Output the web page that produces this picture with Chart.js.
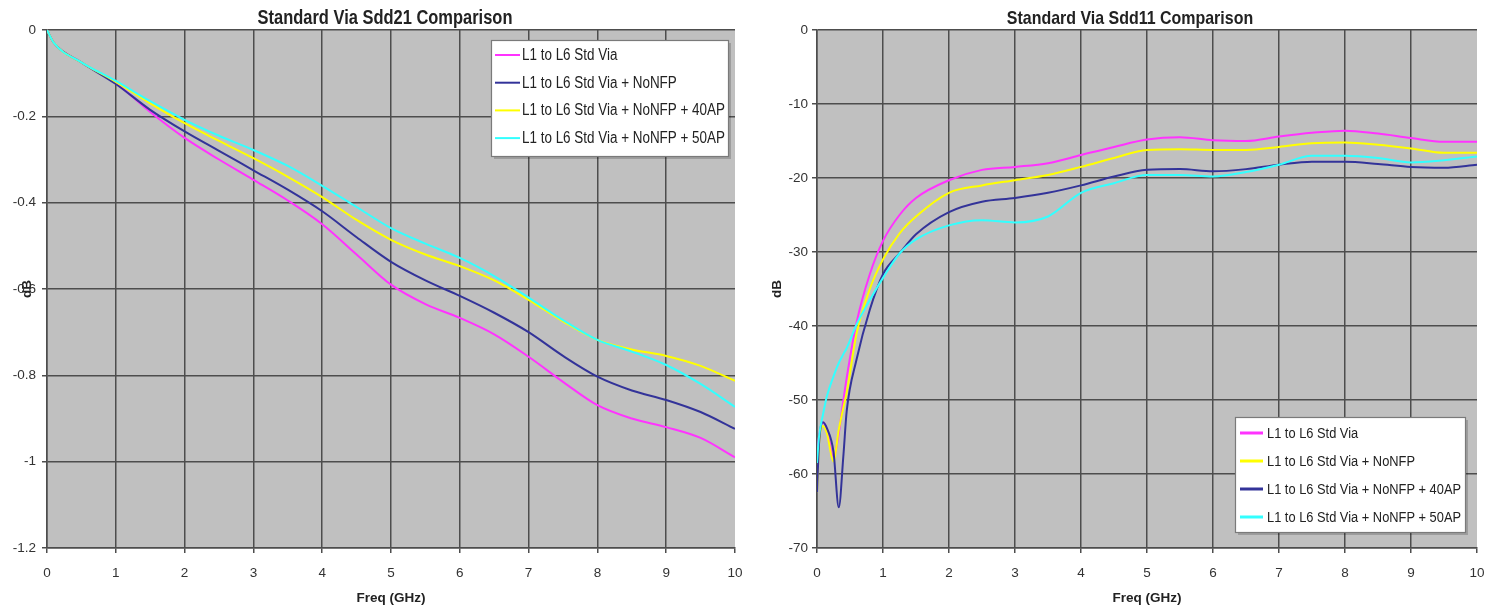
<!DOCTYPE html>
<html><head><meta charset="utf-8">
<script src="https://cdn.jsdelivr.net/npm/chart.js@4.4.1/dist/chart.umd.min.js"></script>
<style>
html,body{margin:0;padding:0;background:#fff;overflow:hidden;}
#wrap{position:relative;width:1494px;height:609px;}
.box{position:absolute;top:0;width:747px;height:609px;}
#b1{left:0}
#b2{left:747px}
</style></head><body>
<div id="wrap"><div class="box" id="b1"><canvas id="c1"></canvas></div><div class="box" id="b2"><canvas id="c2"></canvas></div></div>
<script>
// ---------- data ----------
const titleLeft = 'Standard Via Sdd21 Comparison';
const titleRight = 'Standard Via Sdd11 Comparison';
const labelStd = 'L1 to L6 Std Via';
const labelNoNFP = 'L1 to L6 Std Via + NoNFP';
const label40AP = 'L1 to L6 Std Via + NoNFP + 40AP';
const label50AP = 'L1 to L6 Std Via + NoNFP + 50AP';

const freqL = [0, 0.1, 0.5, 1, 1.5, 2, 2.5, 3, 3.5, 4, 4.5, 5, 5.5, 6, 6.5, 7, 7.5, 8, 8.5, 9, 9.5, 10];
const sdd21Std   = [0, -0.03, -0.075, -0.123, -0.19, -0.25, -0.30, -0.347, -0.395, -0.45, -0.52, -0.59, -0.635, -0.667, -0.705, -0.757, -0.815, -0.869, -0.90, -0.92, -0.945, -0.99];
const sdd21NoNFP = [0, -0.03, -0.075, -0.125, -0.185, -0.235, -0.28, -0.325, -0.37, -0.42, -0.48, -0.537, -0.58, -0.616, -0.655, -0.70, -0.755, -0.803, -0.835, -0.857, -0.885, -0.924];
const sdd21_40AP = [0, -0.03, -0.075, -0.12, -0.17, -0.216, -0.257, -0.297, -0.34, -0.387, -0.44, -0.486, -0.52, -0.547, -0.58, -0.625, -0.675, -0.718, -0.74, -0.755, -0.778, -0.813];
const sdd21_50AP = [0, -0.03, -0.075, -0.118, -0.165, -0.208, -0.245, -0.278, -0.315, -0.361, -0.41, -0.459, -0.495, -0.528, -0.57, -0.62, -0.672, -0.718, -0.745, -0.776, -0.82, -0.873];

const freqR = [0, 0.03, 0.09, 0.15, 0.25, 0.33, 0.4, 0.45, 0.6, 0.8, 1, 1.25, 1.5, 2, 2.5, 3, 3.5, 4, 4.5, 5, 5.5, 6, 6.5, 7, 7.5, 8, 8.5, 9, 9.5, 10];
const sdd11Std   = [-58, -55, -53, -54, -57.7, -54.5, -50, -47, -39.5, -33, -28.5, -25, -22.7, -20.3, -18.9, -18.5, -18, -16.9, -15.8, -14.8, -14.5, -14.9, -15.0, -14.4, -13.9, -13.6, -14, -14.6, -15.1, -15.1];
const sdd11NoNFP = [-62.5, -56, -53.5, -54.5, -58.3, -54, -51, -49, -41, -35, -31, -27.5, -25.2, -22, -21, -20.3, -19.6, -18.5, -17.3, -16.2, -16.1, -16.2, -16.2, -15.8, -15.3, -15.2, -15.5, -16, -16.6, -16.6];
const sdd11_40AP = [-62.5, -56, -53, -53.8, -57, -64.5, -57.5, -51.5, -44.5, -37.8, -33, -30.2, -27.6, -24.6, -23.2, -22.7, -22, -21, -19.8, -18.9, -18.8, -19.1, -18.8, -18.2, -17.8, -17.8, -18.1, -18.5, -18.6, -18.2];
const sdd11_50AP = [-58.5, -55, -52, -49.5, -46.8, -45, -43.8, -43, -39.8, -36.5, -33.5, -30.2, -28.3, -26.4, -25.7, -26, -25.2, -22, -20.7, -19.6, -19.6, -19.8, -19.2, -18.2, -17, -17, -17.3, -17.9, -17.6, -17.1];

const xTitle = 'Freq (GHz)';
const yTitle = 'dB';

// ---------- fonts ----------
function fontOk(name){
  const c=document.createElement('canvas').getContext('2d');
  const s='abcdefghijklmnopqrstuvwxyz0123456789ABCDEF';
  c.font='50px monospace'; const w1=c.measureText(s).width;
  c.font="50px '"+name+"', monospace"; return Math.abs(c.measureText(s).width-w1)>0.5;
}
const NARROW = fontOk('Liberation Sans Narrow');
const FAM = NARROW ? "'Liberation Sans Narrow', 'Liberation Sans', Arial, sans-serif" : "'Liberation Sans', Arial, sans-serif";
const K = NARROW ? 1 : 0.84;          // horizontal squeeze for custom-drawn text
const TICK_FS = NARROW ? 15 : 13.5;
const AXT_FS = NARROW ? 16 : 13.5;

const C_MAG = '#ff33ff', C_NAVY = '#333399', C_YEL = '#ffff00', C_CYAN = '#33ffff';
const GRID = '#4d4d4d';

const pts = (xs, ys) => xs.map((x,i)=>({x:x, y:ys[i]}));

function squeezedText(ctx, text, x, y){
  ctx.save(); ctx.translate(x,y); ctx.scale(K,1); ctx.fillText(text,0,0); ctx.restore();
}

const bgArea = {
  id:'bgArea',
  beforeDraw(chart){
    const a=chart.chartArea, ctx=chart.ctx;
    ctx.save(); ctx.fillStyle='#c0c0c0'; ctx.fillRect(a.left,a.top,a.right-a.left,a.bottom-a.top); ctx.restore();
  }
};
const topTitle = {
  id:'topTitle',
  afterDraw(chart,args,o){
    const ctx=chart.ctx; ctx.save();
    ctx.font='bold '+o.size+'px '+FAM; ctx.fillStyle='#222'; ctx.textAlign='center'; ctx.textBaseline='middle';
    squeezedText(ctx, o.text, o.x, o.y); ctx.restore();
  }
};
const boxLegend = {
  id:'boxLegend',
  afterDraw(chart,args,o){
    const ctx=chart.ctx; ctx.save();
    ctx.fillStyle='rgba(0,0,0,0.18)'; ctx.fillRect(o.x+3,o.y+3,o.w,o.h);
    ctx.fillStyle='#fff'; ctx.fillRect(o.x,o.y,o.w,o.h);
    ctx.strokeStyle='#7a7a7a'; ctx.lineWidth=1.2; ctx.strokeRect(o.x+0.5,o.y+0.5,o.w,o.h);
    ctx.font=o.size+'px '+FAM; ctx.textBaseline='middle'; ctx.textAlign='left';
    chart.data.datasets.forEach((ds,i)=>{
      const yy=o.y+o.first+i*o.row;
      ctx.strokeStyle=ds.borderColor; ctx.lineWidth=o.lw;
      ctx.beginPath(); ctx.moveTo(o.x+o.l1,yy); ctx.lineTo(o.x+o.l2,yy); ctx.stroke();
      ctx.fillStyle='#222'; squeezedText(ctx, ds.label, o.x+o.tx, yy+0.5);
    });
    ctx.restore();
  }
};

function fmt(v){ const r=Math.round(v*10)/10; return r===0?'0':String(r); }

function makeChart(id, cfg){
  const ds = cfg.series.map((s,i)=>({
    label:s.label, data:pts(cfg.freq, s.values), borderColor:s.color, backgroundColor:s.color,
    borderWidth:2, pointRadius:0, cubicInterpolationMode:'monotone', order:s.order, fill:false
  }));
  return new Chart(document.getElementById(id), {
    type:'line',
    data:{datasets:ds},
    plugins:[bgArea, topTitle, boxLegend],
    options:{
      responsive:true, maintainAspectRatio:false, animation:false,
      layout:{padding:{top:30,right:cfg.padRight,left:0,bottom:0}},
      plugins:{
        legend:{display:false}, tooltip:{enabled:false},
        topTitle:{text:cfg.title, x:cfg.titleX, y:19, size:cfg.titleSize},
        boxLegend:cfg.legend
      },
      scales:{
        x:{
          type:'linear', min:0, max:10,
          ticks:{stepSize:1, padding:12, color:'#333', font:{family:FAM, size:TICK_FS}, maxRotation:0},
          grid:{color:c=>(c.tick && c.tick.value===10)?'rgba(0,0,0,0)':GRID, lineWidth:1.5, tickLength:5, tickColor:GRID, tickWidth:1.5},
          border:{display:true, color:GRID, width:1.5},
          title:{display:true, text:xTitle, color:'#222', font:{family:FAM, size:AXT_FS, weight:'bold'}, padding:{top:0,bottom:2.5}},
          afterFit:s=>{s.height=61; s.paddingLeft=0; s.paddingRight=0;}
        },
        y:{
          min:cfg.ymin, max:0,
          ticks:{stepSize:cfg.ystep, padding:cfg.yPad, color:'#333', font:{family:FAM, size:TICK_FS}, callback:v=>fmt(v)},
          grid:{color:GRID, lineWidth:1.5, tickLength:5, tickColor:GRID, tickWidth:1.5},
          border:{display:true, color:GRID, width:1.5},
          title:{display:true, text:yTitle, color:'#222', font:{family:FAM, size:AXT_FS, weight:'bold'}, padding:{top:cfg.yTitlePad,bottom:0}},
          afterFit:s=>{s.width=cfg.yWidth; s.paddingTop=0; s.paddingBottom=0;}
        }
      }
    }
  });
}

makeChart('c1', {
  freq:freqL, title:titleLeft, titleX:385, titleSize:19.6, padRight:12, ymin:-1.2, ystep:0.2, yPad:6, yTitlePad:19.5, yWidth:47,
  series:[
    {label:labelStd, values:sdd21Std, color:C_MAG, order:4},
    {label:labelNoNFP, values:sdd21NoNFP, color:C_NAVY, order:3},
    {label:label40AP, values:sdd21_40AP, color:C_YEL, order:2},
    {label:label50AP, values:sdd21_50AP, color:C_CYAN, order:1}
  ],
  legend:{x:491, y:40, w:237, h:116, first:15, row:27.7, l1:4, l2:29, tx:31, lw:2, size:16}
});
makeChart('c2', {
  freq:freqR, title:titleRight, titleX:383, titleSize:19, padRight:17, ymin:-70, ystep:10, yPad:4, yTitlePad:22.5, yWidth:70,
  series:[
    {label:labelStd, values:sdd11Std, color:C_MAG, order:4},
    {label:labelNoNFP, values:sdd11NoNFP, color:C_YEL, order:3},
    {label:label40AP, values:sdd11_40AP, color:C_NAVY, order:2},
    {label:label50AP, values:sdd11_50AP, color:C_CYAN, order:1}
  ],
  legend:{x:488, y:417, w:230, h:115, first:16, row:28, l1:5, l2:28, tx:32, lw:3, size:15.3}
});
</script>
</body></html>
